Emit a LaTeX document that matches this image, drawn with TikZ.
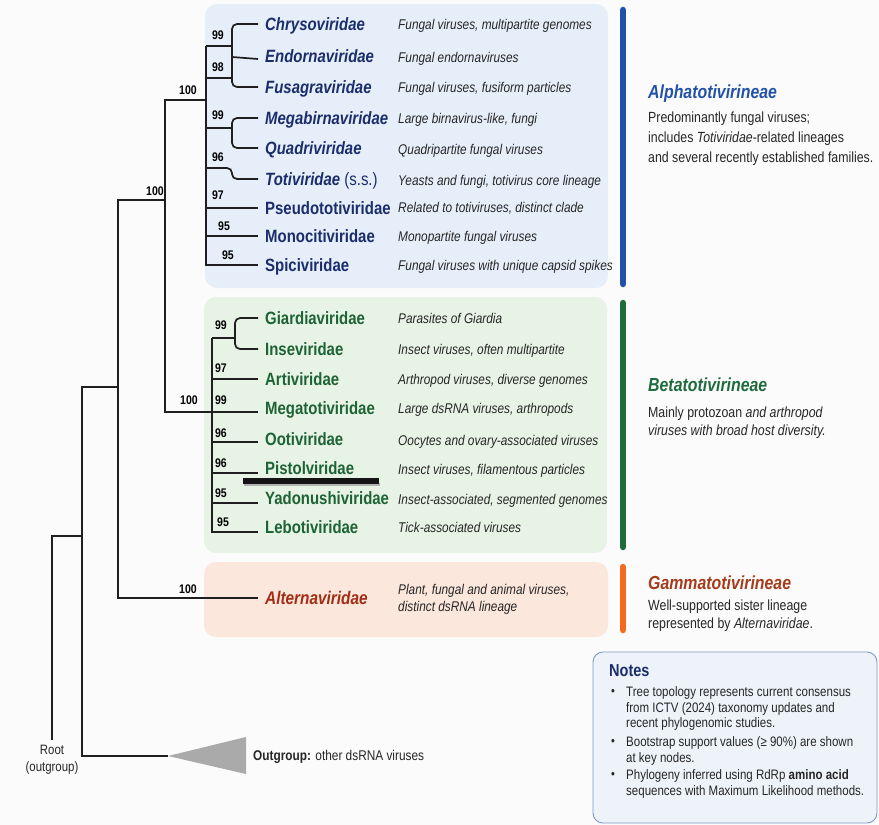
\documentclass[tikz,border=0pt]{standalone}
\usepackage{fontspec}
\setmainfont{Liberation Sans}[FakeStretch=0.84]
\usetikzlibrary{calc}
\definecolor{bgc}{HTML}{FBFBFB}
\definecolor{abox}{HTML}{E6EEF9}
\definecolor{bbox}{HTML}{E7F3E5}
\definecolor{gbox}{HTML}{FCE7DC}
\definecolor{anavy}{HTML}{1B2D6B}
\definecolor{ablue}{HTML}{2252A8}
\definecolor{bgreen}{HTML}{1E6335}
\definecolor{bbar}{HTML}{1E6B3C}
\definecolor{gred}{HTML}{A22D14}
\definecolor{gtitle}{HTML}{A63B1B}
\definecolor{gbar}{HTML}{F26B1F}
\definecolor{txt}{HTML}{262626}
\definecolor{nbox}{HTML}{EEF3FA}
\definecolor{nborder}{HTML}{7F98C8}
\definecolor{tri}{HTML}{AAAAAA}
\begin{document}
\begin{tikzpicture}[x=1pt,y=-1pt,
  branch/.style={draw=black!88, line width=1.7pt},
  leafbase/.style={anchor=west, inner xsep=7pt, inner ysep=0pt, text height=12.7pt, text depth=0pt, font=\fontsize{17.8}{20}\selectfont\bfseries},
  leafA/.style={leafbase, text=anavy, font=\fontsize{17.8}{20}\selectfont\bfseries\itshape},
  leafAu/.style={leafbase, text=anavy},
  leafB/.style={leafbase, text=bgreen},
  leafG/.style={leafbase, text=gred, font=\fontsize{18.3}{20}\selectfont\bfseries\itshape, text height=13.1pt},
  dpt/.style={text depth=#1},
  desc/.style={anchor=west, inner sep=0pt, text height=10.1pt, text depth=0pt, text=txt, font=\fontsize{14.1}{16}\selectfont\itshape},
  boot/.style={inner sep=0pt, text height=8.95pt, text depth=0pt, font=\fontsize{12.5}{14}\selectfont\bfseries},
  ctitle/.style={anchor=west, inner sep=0pt, text height=13.5pt, text depth=0pt, font=\fontsize{18.9}{21}\selectfont\bfseries\itshape},
  info/.style={anchor=west, inner sep=0pt, text height=10.5pt, text depth=0pt, text=txt, font=\fontsize{14.7}{17}\selectfont},
  note/.style={anchor=west, inner sep=0pt, text height=9.8pt, text depth=0pt, text=txt, font=\fontsize{13.7}{16}\selectfont},
  bullet/.style={inner sep=0pt, text=txt, font=\fontsize{13}{14}\selectfont},
  bar/.style={line width=6.5pt, line cap=round},
  small/.style={inner sep=0pt, text height=9.7pt, text depth=0pt, text=txt, font=\fontsize{13.6}{15}\selectfont}
]
\useasboundingbox (0,0) rectangle (879,825);
\fill[bgc] (0,0) rectangle (879,825);

% panels
\fill[abox, rounded corners=12pt] (205,4) rectangle (608,288);
\fill[bbox, rounded corners=12pt] (204,297) rectangle (607,553);
\fill[gbox, rounded corners=12pt] (204,562) rectangle (608,637);
\draw[bar, ablue] (623,10) -- (623,284);
\draw[bar, bbar] (623,303) -- (623,547);
\draw[bar, gbar] (623,567) -- (623,630);

% Alpha leaves
\node[leafA] (chry) at (258,24) {Chrysoviridae};
\node[leafA, dpt=6pt] (endo) at (258,59) {Endornaviridae};
\node[leafA] (fusa) at (258,87) {Fusagraviridae};
\node[leafA] (mega) at (258,118) {Megabirnaviridae};
\node[leafA] (quad) at (258,148) {Quadriviridae};
\node[leafA] (toti) at (258,179) {Totiviridae {\mdseries\upshape (s.s.)}};
\node[leafAu] (pseu) at (258,208) {Pseudototiviridae};
\node[leafAu] (mono) at (258,236) {Monocitiviridae};
\node[leafAu] (spic) at (258,265) {Spiciviridae};

\node[desc] (dchry) at (398,24) {Fungal viruses, multipartite genomes};
\node[desc] (dendo) at (398,57) {Fungal endornaviruses};
\node[desc] (dfusa) at (398,87) {Fungal viruses, fusiform particles};
\node[desc] (dmega) at (398,118) {Large birnavirus-like, fungi};
\node[desc] (dquad) at (398,149) {Quadripartite fungal viruses};
\node[desc] (dtoti) at (398,180) {Yeasts and fungi, totivirus core lineage};
\node[desc] (dpseu) at (398,207) {Related to totiviruses, distinct clade};
\node[desc] (dmono) at (398,236) {Monopartite fungal viruses};
\node[desc] (dspic) at (398,265) {Fungal viruses with unique capsid spikes};

% Beta leaves
\node[leafB] (giar) at (258,318) {Giardiaviridae};
\node[leafB] (inse) at (258,349) {Inseviridae};
\node[leafB] (arti) at (258,379) {Artiviridae};
\node[leafB, dpt=8pt] (mtot) at (258,412) {Megatotiviridae};
\node[leafB, dpt=6pt] (ooti) at (258,442) {Ootiviridae};
\node[leafB, dpt=10pt] (pist) at (258,473) {Pistolviridae};
\node[leafB, dpt=10pt] (yado) at (258,503) {Yadonushiviridae};
\node[leafB, dpt=10pt] (lebo) at (258,532) {Lebotiviridae};

\node[desc] (dgiar) at (398,318) {Parasites of Giardia};
\node[desc] (dinse) at (398,349) {Insect viruses, often multipartite};
\node[desc] (darti) at (398,379) {Arthropod viruses, diverse genomes};
\node[desc] (dmtot) at (398,408) {Large dsRNA viruses, arthropods};
\node[desc] (dooti) at (398,440) {Oocytes and ovary-associated viruses};
\node[desc] (dpist) at (398,469) {Insect viruses, filamentous particles};
\node[desc] (dyado) at (398,499) {Insect-associated, segmented genomes};
\node[desc] (dlebo) at (398,527) {Tick-associated viruses};

% Gamma leaf
\node[leafG] (alte) at (258,598) {Alternaviridae};
\node[desc] (dalte1) at (398,589) {Plant, fungal and animal viruses,};
\node[desc] (dalte2) at (398,606) {distinct dsRNA lineage};

% Alpha subtree
\coordinate (At) at (206,46);
\coordinate (c1) at (232,57);
\coordinate (A98) at (206,78);
\coordinate (c2) at (232,128);
\coordinate (c3) at (232,168);
\draw[branch] (At) -- (spic.west -| At) -- (spic.west);
\draw[branch, rounded corners=5pt] (chry.west) -| (c1) |- (fusa.west);
\draw[branch] (c1) -- (endo.west);
\draw[branch] (At) -- (At -| c1);
\draw[branch] (A98) -- (A98 -| c1);
\draw[branch, rounded corners=5pt] (mega.west) -| (c2) |- (quad.west);
\draw[branch] (c2 -| At) -- (c2);
\draw[branch, rounded corners=5pt] (c3 -| At) -- (c3) |- (toti.west);
\draw[branch] (pseu.west -| At) -- (pseu.west);
\draw[branch] (mono.west -| At) -- (mono.west);

% Beta subtree
\coordinate (Bt) at (212,338);
\coordinate (c5) at (235,338);
\draw[branch] (Bt) -- (lebo.west -| Bt) -- (lebo.west);
\draw[branch, rounded corners=5pt] (giar.west) -| (c5) |- (inse.west);
\draw[branch] (Bt) -- (c5);
\foreach \n in {arti,mtot,ooti,pist,yado} \draw[branch] (\n.west -| Bt) -- (\n.west);

% deep branches
\coordinate (n1) at (165,100);
\coordinate (n1b) at (165,412);
\coordinate (n2) at (118,200);
\coordinate (n3) at (82,387);
\coordinate (tip) at (168,756);
\coordinate (rt) at (52,536);
\coordinate (rtb) at (52,740);
\draw[branch] (n1 -| At) -- (n1) -- (n1b) -- (n1b -| Bt);
\draw[branch] (n2 -| n1) -- (n2) -- (alte.west -| n2) -- (alte.west);
\draw[branch] (n3 -| n2) -- (n3) -- (tip -| n3) -- (tip);
\draw[branch] (rt -| n3) -- (rt) -- (rtb);

% outgroup
\fill[tri] (tip) -- (246,737) -- (246,774) -- cycle;
\node[anchor=west, inner sep=0pt, text height=10.1pt, text depth=0pt, text=txt, font=\fontsize{14.1}{16}\selectfont] (outg) at (253,755) {\textbf{Outgroup:} other dsRNA viruses};
\node[small] (root1) at (52,750) {Root};
\node[small] (root2) at (52,767) {(outgroup)};

% stray bar
\fill[black!30] (244,483) rectangle (380,486);
\fill[black!92] (243,478) rectangle (379,484);

% bootstrap values
\node[boot] (b1) at (218,35) {99};
\node[boot] (b2) at (218,67) {98};
\node[boot] (b3) at (218,115) {99};
\node[boot] (b4) at (218,157) {96};
\node[boot] (b5) at (218,195) {97};
\node[boot] (b6) at (224,226) {95};
\node[boot] (b7) at (228,255) {95};
\node[boot] (b8) at (188,90) {100};
\node[boot] (b9) at (155,191) {100};
\node[boot] (b10) at (221,325) {99};
\node[boot] (b11) at (221,368) {97};
\node[boot] (b12) at (189,400) {100};
\node[boot] (b13) at (221,400) {99};
\node[boot] (b14) at (221,433) {96};
\node[boot] (b15) at (221,463) {96};
\node[boot] (b16) at (221,493) {95};
\node[boot] (b17) at (223,522) {95};
\node[boot] (b18) at (188,589) {100};

% clade labels
\node[ctitle, text=ablue] (ta) at (648,92) {Alphatotivirineae};
\node[info] (ta1) at (648,117) {Predominantly fungal viruses;};
\node[info] (ta2) at (648,137) {includes \textit{Totiviridae}-related lineages};
\node[info] (ta3) at (648,157) {and several recently established families.};
\node[ctitle, text=bbar] (tb) at (648,385) {Betatotivirineae};
\node[info] (tb1) at (648,412) {Mainly protozoan \textit{and arthropod}};
\node[info] (tb2) at (648,430) {\textit{viruses with broad host diversity.}};
\node[ctitle, text=gtitle] (tg) at (648,583) {Gammatotivirineae};
\node[info] (tg1) at (648,605) {Well-supported sister lineage};
\node[info] (tg2) at (648,623) {represented by \textit{Alternaviridae}.};

% notes
\draw[nborder, fill=nbox, line width=0.9pt, rounded corners=10pt] (593,652) rectangle (877,823);
\node[anchor=west, inner sep=0pt, text height=12.4pt, text depth=0pt, text=anavy, font=\fontsize{17.3}{19}\selectfont\bfseries] (nt) at (609,670) {Notes};
\node[bullet] (nb1) at (613,692) {•};
\node[bullet] (nb2) at (613,742) {•};
\node[bullet] (nb3) at (613,775) {•};
\node[note] (n11) at (626,692) {Tree topology represents current consensus};
\node[note] (n12) at (626,708) {from ICTV (2024) taxonomy updates and};
\node[note] (n13) at (626,723) {recent phylogenomic studies.};
\node[note] (n21) at (626,742) {Bootstrap support values (≥ 90\%) are shown};
\node[note] (n22) at (626,758) {at key nodes.};
\node[note] (n31) at (626,775) {Phylogeny inferred using RdRp \textbf{amino acid}};
\node[note] (n32) at (626,791) {sequences with Maximum Likelihood methods.};
\end{tikzpicture}
\end{document}
